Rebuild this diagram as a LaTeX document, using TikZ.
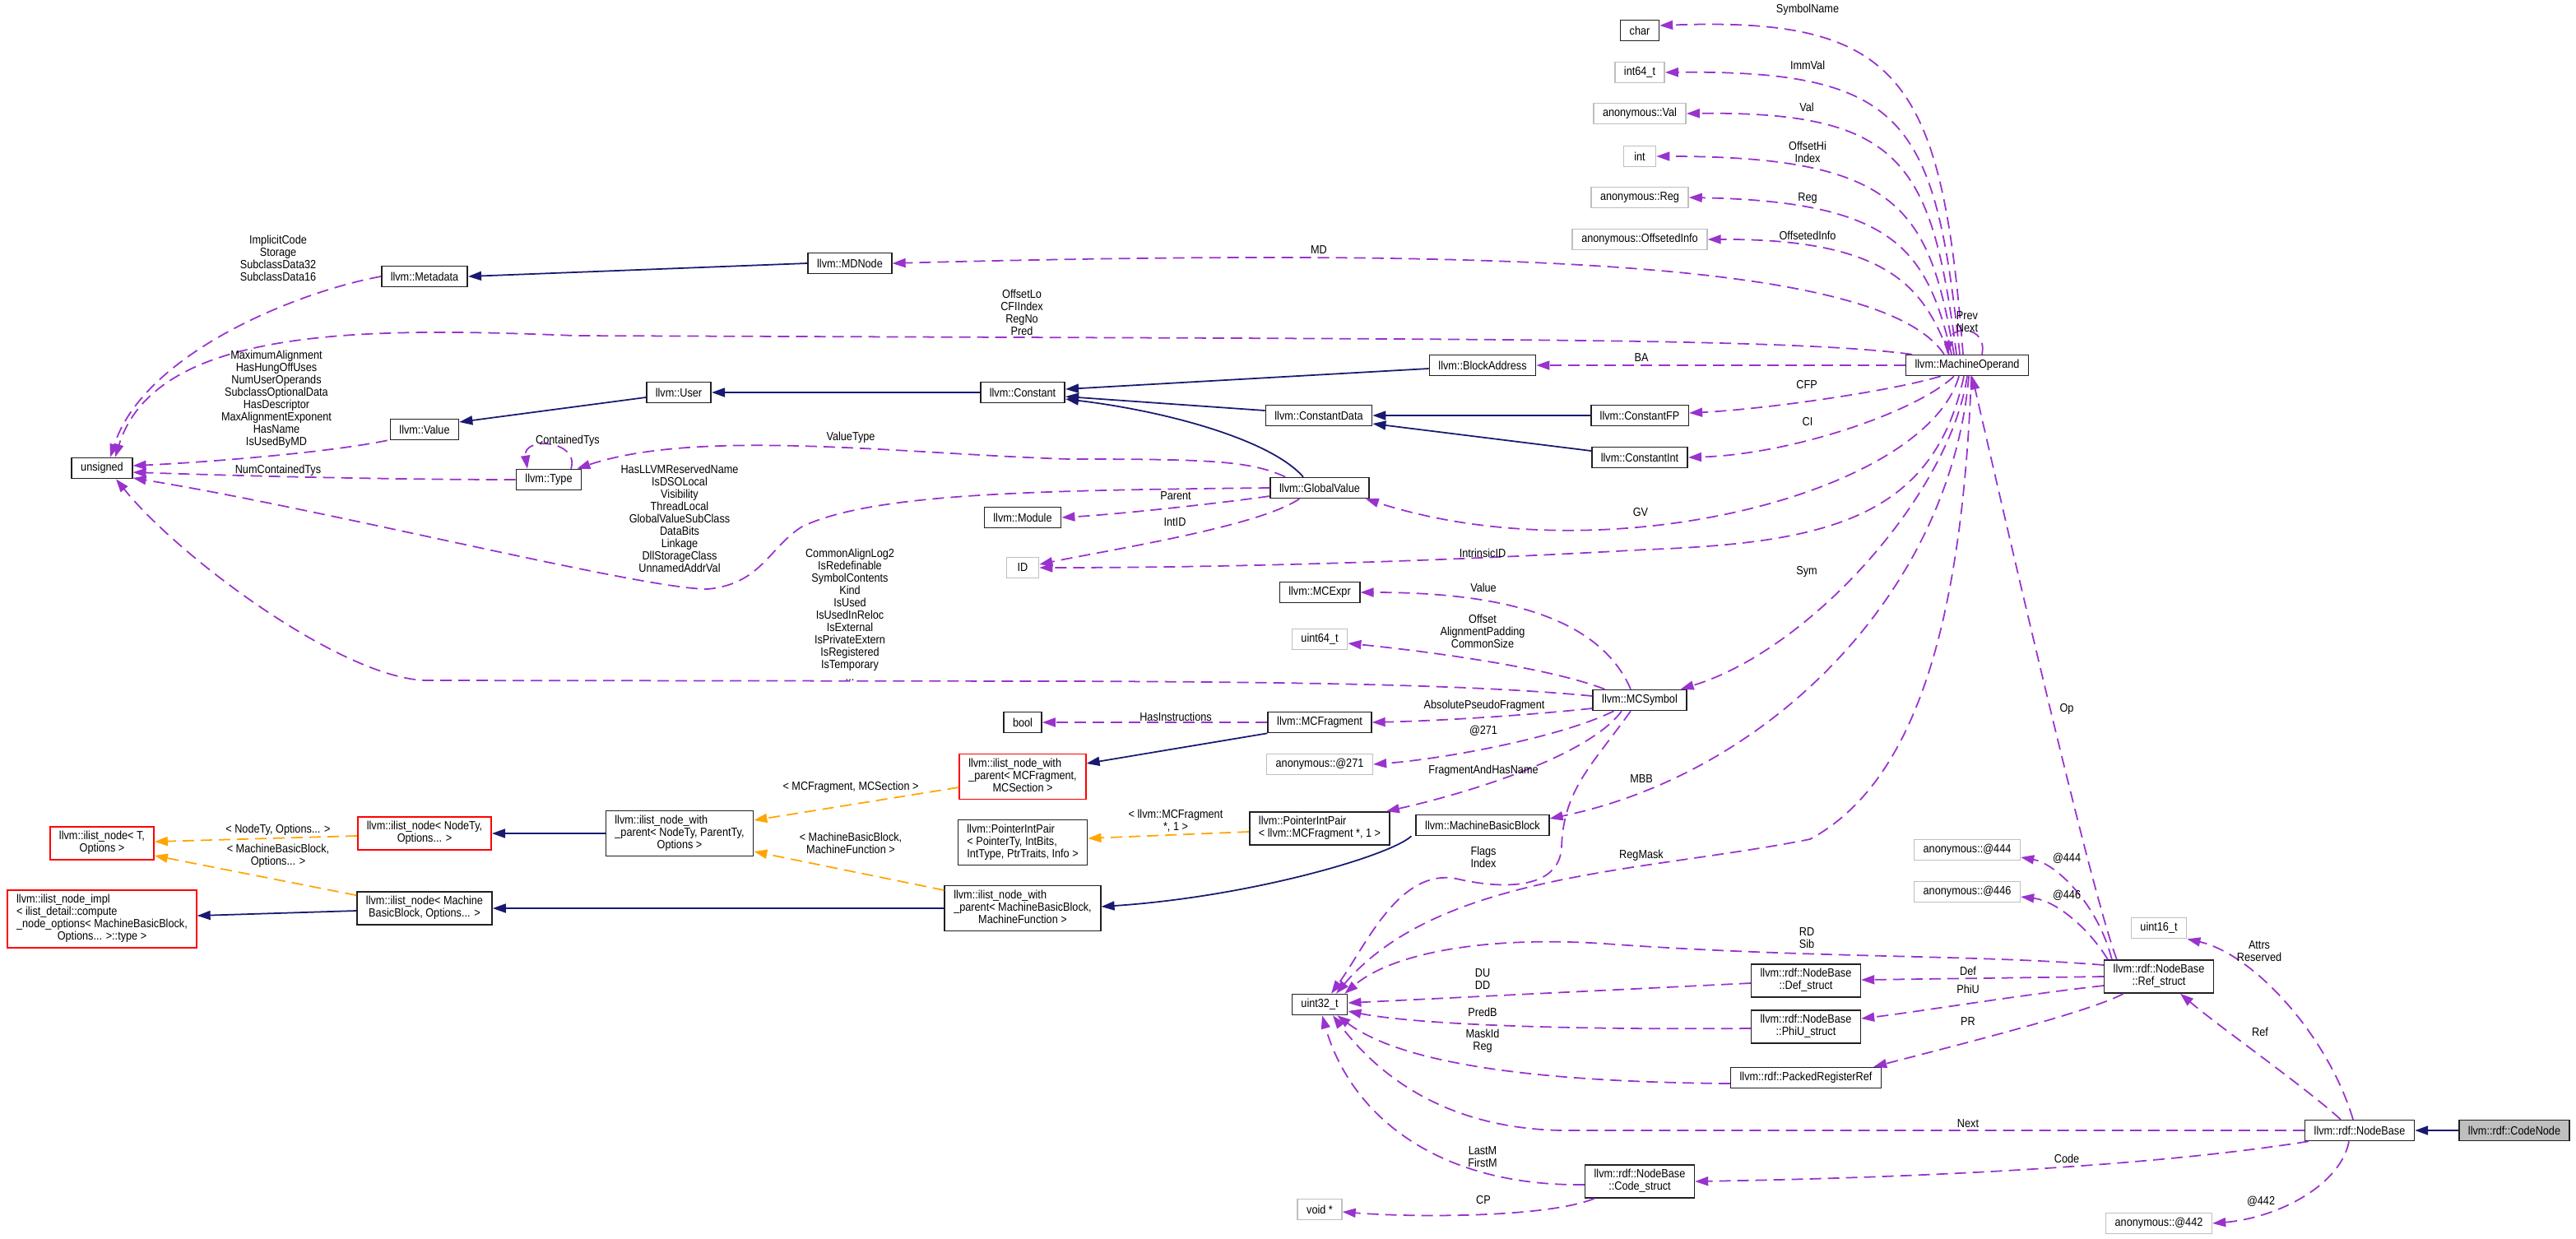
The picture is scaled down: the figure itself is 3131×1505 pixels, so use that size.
\documentclass[tikz,border=0pt]{standalone}
\usepackage{fontspec}
\setmainfont{Liberation Sans}[FakeStretch=0.88]
\usetikzlibrary{arrows.meta,calc}
\definecolor{mpurple}{HTML}{9A32CD}
\definecolor{mblue}{HTML}{191970}
\definecolor{morange}{HTML}{FFA500}
\definecolor{mgray}{HTML}{BFBFBF}
\definecolor{mborder}{HTML}{202020}
\newcommand{\dfont}{\fontsize{4.1pt}{4.27pt}\selectfont}
\newcommand{\mlii}[2]{\begin{tabular}{@{}l@{}}#1\\\multicolumn{1}{@{}c@{}}{#2}\end{tabular}}
\newcommand{\mliii}[3]{\begin{tabular}{@{}l@{}}#1\\#2\\\multicolumn{1}{@{}c@{}}{#3}\end{tabular}}
\newcommand{\mliv}[4]{\begin{tabular}{@{}l@{}}#1\\#2\\#3\\\multicolumn{1}{@{}c@{}}{#4}\end{tabular}}
\tikzset{
  box/.style={draw=mborder, line width=0.45pt, fill=white, inner xsep=0.11cm, inner ysep=0.05cm,
    minimum height=0.25cm, minimum width=0.39cm, font=\dfont},
  gbox/.style={box, draw=mgray},
  rbox/.style={box, draw=red},
  elab/.style={font=\dfont, align=center, inner sep=0pt},
  mem/.style={draw=mpurple, line width=0.5pt, dash pattern=on 0.14cm off 0.08cm,
    -{Triangle[length=0.16cm,width=0.11cm]}},
  inh/.style={draw=mblue, line width=0.5pt, -{Triangle[length=0.16cm,width=0.11cm]}},
  tmpl/.style={draw=morange, line width=0.5pt, dash pattern=on 0.14cm off 0.08cm,
    -{Triangle[length=0.16cm,width=0.11cm]}}
}
\begin{document}
\begin{tikzpicture}[x=0.01cm, y=-0.01cm]
\useasboundingbox (0,0) rectangle (3131,1505);
% ---------------- nodes ----------------
\node[box]  (char)     at (1993,37)  {char};
\node[gbox] (int64)    at (1993,88)  {int64\_t};
\node[gbox] (aval)     at (1993,138) {anonymous::Val};
\node[gbox] (int)      at (1993,190) {int};
\node[gbox] (areg)     at (1993,240) {anonymous::Reg};
\node[gbox] (aoff)     at (1993,291) {anonymous::OffsetedInfo};
\node[box]  (mdnode)   at (1033,320) {llvm::MDNode};
\node[box]  (metadata) at (516,336)  {llvm::Metadata};
\node[box]  (mo)       at (2391,444) {llvm::MachineOperand};
\node[box]  (ba)       at (1802,444) {llvm::BlockAddress};
\node[box]  (user)     at (825,477)  {llvm::User};
\node[box]  (constant) at (1243,477) {llvm::Constant};
\node[box]  (cdata)    at (1603,505) {llvm::ConstantData};
\node[box]  (cfp)      at (1993,505) {llvm::ConstantFP};
\node[box]  (cint)     at (1993,556) {llvm::ConstantInt};
\node[box]  (value)    at (516,522)  {llvm::Value};
\node[box]  (unsigned) at (124,569)  {unsigned};
\node[box]  (type)     at (667,583)  {llvm::Type};
\node[box]  (gv)       at (1604,593) {llvm::GlobalValue};
\node[box]  (module)   at (1243,629) {llvm::Module};
\node[gbox] (id)       at (1243,690) {ID};
\node[box]  (mcexpr)   at (1604,720) {llvm::MCExpr};
\node[gbox] (u64)      at (1604,777) {uint64\_t};
\node[box]  (mcsym)    at (1993,851) {llvm::MCSymbol};
\node[box]  (bool)     at (1243,878) {bool};
\node[box]  (mcfrag)   at (1604,878) {llvm::MCFragment};
\node[gbox] (a271)     at (1604,929) {anonymous::@271};
\node[rbox] (iwpmcf)   at (1243,944) {\mliii{llvm::ilist\_node\_with}{\_parent< MCFragment,}{MCSection >}};
\node[box]  (pipmcf)   at (1604,1007) {\mlii{llvm::PointerIntPair}{< llvm::MCFragment *, 1 >}};
\node[box]  (mbb)      at (1802,1003) {llvm::MachineBasicBlock};
\node[box]  (iwpnt)    at (826,1013) {\mliii{llvm::ilist\_node\_with}{\_parent< NodeTy, ParentTy,}{Options >}};
\node[box]  (pipgen)   at (1243,1024) {\mliii{llvm::PointerIntPair}{< PointerTy, IntBits,}{IntType, PtrTraits, Info >}};
\node[box]  (iwpmbb)   at (1243,1104) {\mliii{llvm::ilist\_node\_with}{\_parent< MachineBasicBlock,}{MachineFunction >}};
\node[rbox] (ilnT)     at (124,1025) {\mlii{llvm::ilist\_node< T,}{Options >}};
\node[rbox] (ilnnt)    at (516,1013) {\mlii{llvm::ilist\_node< NodeTy,}{Options... >}};
\node[rbox] (ilimpl)   at (124,1117) {\mliv{llvm::ilist\_node\_impl}{< ilist\_detail::compute}{\_node\_options< MachineBasicBlock,}{Options... >::type >}};
\node[box]  (ilnmbb)   at (516,1104) {\mlii{llvm::ilist\_node< Machine}{BasicBlock, Options... >}};
\node[gbox] (a444)     at (2391,1033) {anonymous::@444};
\node[gbox] (a446)     at (2391,1084) {anonymous::@446};
\node[gbox] (u16)      at (2624,1128) {uint16\_t};
\node[box]  (u32)      at (1604,1221) {uint32\_t};
\node[box]  (refs)     at (2624,1187) {\mlii{llvm::rdf::NodeBase}{::Ref\_struct}};
\node[box]  (defs)     at (2195,1192) {\mlii{llvm::rdf::NodeBase}{::Def\_struct}};
\node[box]  (phius)    at (2195,1248) {\mlii{llvm::rdf::NodeBase}{::PhiU\_struct}};
\node[box]  (prr)      at (2195,1310) {llvm::rdf::PackedRegisterRef};
\node[box]  (nodebase) at (2868,1374) {llvm::rdf::NodeBase};
\node[box, fill=mgray] (codenode) at (3056,1374) {llvm::rdf::CodeNode};
\node[box]  (codes)    at (1993,1436) {\mlii{llvm::rdf::NodeBase}{::Code\_struct}};
\node[gbox] (voidp)    at (1604,1470) {void *};
\node[gbox] (a442)     at (2624,1487) {anonymous::@442};
% ---------------- inheritance ----------------
\draw[inh] (mdnode.west) -- (metadata.east);
\draw[inh] ($(user.west)+(0,6)$) -- ($(value.east)+(0,-9)$);
\draw[inh] (constant.west) -- (user.east);
\draw[inh] ($(ba.west)+(0,4)$) -- ($(constant.east)+(0,-4)$);
\draw[inh] ($(cdata.west)+(0,-6)$) -- ($(constant.east)+(0,5)$);
\draw[inh] ($(gv.north)+(-20,0)$) .. controls (1545,535) and (1420,500) .. ($(constant.east)+(0,8)$);
\draw[inh] (cfp.west) -- (cdata.east);
\draw[inh] ($(cint.west)+(0,-8)$) -- ($(cdata.east)+(0,10)$);
\draw[inh] (mcfrag.south west) -- ($(iwpmcf.east)+(0,-16)$);
\draw[inh] (iwpnt.west) -- (ilnnt.east);
\draw[inh] ($(ilnmbb.west)+(0,3)$) -- ($(ilimpl.east)+(0,-4)$);
\draw[inh] (iwpmbb.west) -- (ilnmbb.east);
\draw[inh] ($(mbb.south west)+(-5,0)$) .. controls (1690,1040) and (1520,1090) .. ($(iwpmbb.east)+(0,-2)$);
\draw[inh] (codenode.west) -- (nodebase.east);
% ---------------- template instances ----------------
\draw[tmpl] ($(ilnnt.west)+(0,3)$) -- ($(ilnT.east)+(0,-2)$);
\draw[tmpl] ($(ilnmbb.north west)+(0,5)$) -- ($(ilnT.east)+(0,15)$);
\draw[tmpl] ($(iwpmcf.west)+(0,13)$) -- ($(iwpnt.east)+(0,-16)$);
\draw[tmpl] ($(iwpmbb.west)+(0,-22)$) -- ($(iwpnt.east)+(0,22)$);
\draw[tmpl] ($(pipmcf.west)+(0,4)$) -- ($(pipgen.east)+(0,-5)$);
% ---------------- members ----------------
\draw[mem] (metadata.west) .. controls (360,355) and (175,430) .. ($(unsigned.north)+(10,0)$);
\draw[mem] ($(mo.north west)+(8,0)$) .. controls (2200,414) and (1900,413) .. (1500,411) -- (700,408) .. controls (450,398) and (190,395) .. ($(unsigned.north)+(16,0)$);
\draw[mem] ($(value.south west)+(-3,0)$) .. controls (400,550) and (250,562) .. ($(unsigned.east)+(0,-3)$);
\draw[mem] (type.west) .. controls (450,583) and (250,577) .. ($(unsigned.east)+(0,5)$);
\draw[mem] ($(type.north)+(27,0)$) .. controls (705,535) and (635,530) .. ($(type.north)+(-26,0)$);
\draw[mem] ($(gv.north west)+(19,0)$) .. controls (1520,560) and (1470,558) .. (1300,558) .. controls (1100,552) and (850,520) .. ($(type.north east)+(-6,0)$);
\draw[mem] (gv.west) .. controls (1250,596) and (1060,600) .. (975,640) .. controls (935,665) and (925,710) .. (860,716) .. controls (780,716) and (400,620) .. ($(unsigned.east)+(0,12)$);
\draw[mem] ($(mcsym.west)+(0,-5)$) .. controls (1800,833) and (1600,829) .. (1300,828) -- (520,827) .. controls (420,827) and (220,680) .. ($(unsigned.south)+(17,0)$);
\draw[mem] ($(mo.north)+(-28,0)$) .. controls (2290,320) and (1850,300) .. (mdnode.east);
\draw[mem] ($(mo.north)+(-5,0)$) .. controls (2360,95) and (2310,20) .. ($(char.east)+(0,-6)$);
\draw[mem] ($(mo.north)+(-9,0)$) .. controls (2352,150) and (2320,85) .. (int64.east);
\draw[mem] ($(mo.north)+(-13,0)$) .. controls (2348,200) and (2315,135) .. (aval.east);
\draw[mem] ($(mo.north)+(-16,0)$) .. controls (2345,255) and (2310,190) .. (int.east);
\draw[mem] ($(mo.north)+(-19,0)$) .. controls (2342,305) and (2305,245) .. (areg.east);
\draw[mem] ($(mo.north)+(-22,0)$) .. controls (2339,353) and (2300,290) .. (aoff.east);
\draw[mem] ($(mo.north)+(18,0)$) .. controls (2416,395) and (2370,395) .. ($(mo.north)+(-24,0)$);
\draw[mem] (mo.west) -- (ba.east);
\draw[mem] ($(mo.south west)+(43,0)$) .. controls (2300,475) and (2150,497) .. ($(cfp.east)+(0,-3)$);
\draw[mem] ($(mo.south)+(-16,0)$) .. controls (2330,500) and (2180,552) .. (cint.east);
\draw[mem] ($(mo.south)+(-10,0)$) .. controls (2340,600) and (1950,700) .. ($(gv.south east)+(-5,0)$);
\draw[mem] ($(mo.south)+(-4,0)$) .. controls (2350,630) and (2220,660) .. (2000,668) .. controls (1700,685) and (1450,690) .. (id.east);
\draw[mem] ($(gv.south west)+(36,0)$) .. controls (1530,640) and (1350,668) .. ($(id.east)+(0,-4)$);
\draw[mem] ($(gv.west)+(0,10)$) .. controls (1480,612) and (1360,625) .. (module.east);
\draw[mem] (mo.south) .. controls (2370,600) and (2200,790) .. ($(mcsym.north east)+(-8,0)$);
\draw[mem] ($(mcsym.north)+(-11,0)$) .. controls (1940,740) and (1800,720) .. (mcexpr.east);
\draw[mem] ($(mcsym.north west)+(15,0)$) .. controls (1880,810) and (1720,790) .. ($(u64.east)+(0,5)$);
\draw[mem] ($(mcsym.west)+(0,10)$) .. controls (1850,870) and (1750,876) .. (mcfrag.east);
\draw[mem] ($(mcsym.south west)+(26,0)$) .. controls (1900,895) and (1760,922) .. (a271.east);
\draw[mem] ($(mcsym.south)+(-22,0)$) .. controls (1930,920) and (1780,965) .. ($(pipmcf.north east)+(-5,0)$);
\draw[mem] ($(mcsym.south)+(-11,0)$) .. controls (1935,930) and (1900,960) .. (1898,1030) .. controls (1895,1080) and (1830,1082) .. (1770,1068) .. controls (1700,1055) and (1660,1150) .. ($(u32.north)+(14,0)$);
\draw[mem] ($(mo.south)+(2,0)$) .. controls (2370,720) and (2150,940) .. ($(mbb.east)+(0,-8)$);
\draw[mem] ($(mo.south)+(5,0)$) .. controls (2385,750) and (2330,950) .. (2200,1020) .. controls (2000,1060) and (1750,1060) .. ($(u32.north)+(20,0)$);
\draw[mem] ($(refs.north west)+(16,0)$) .. controls (2540,1080) and (2430,600) .. ($(mo.south)+(6,0)$);
\draw[mem] ($(refs.north west)+(10,0)$) .. controls (2550,1100) and (2500,1050) .. ($(a444.east)+(0,9)$);
\draw[mem] ($(refs.north west)+(5,0)$) .. controls (2540,1130) and (2500,1095) .. ($(a446.east)+(0,6)$);
\draw[mem] ($(refs.west)+(0,-14)$) .. controls (2400,1160) and (2200,1165) .. (1950,1147) .. controls (1800,1137) and (1690,1160) .. ($(u32.north east)+(-4,0)$);
\draw[mem] (refs.west) -- ($(defs.east)+(0,-1)$);
\draw[mem] ($(refs.west)+(0,11)$) .. controls (2450,1210) and (2330,1230) .. ($(phius.east)+(0,-10)$);
\draw[mem] ($(refs.south west)+(24,0)$) .. controls (2540,1230) and (2380,1270) .. ($(prr.north east)+(-10,0)$);
\draw[mem] ($(defs.west)+(0,3)$) -- ($(u32.east)+(0,-2)$);
\draw[mem] ($(phius.west)+(0,2)$) .. controls (1900,1252) and (1720,1245) .. ($(u32.east)+(0,8)$);
\draw[mem] ($(prr.west)+(0,7)$) .. controls (1850,1315) and (1700,1290) .. ($(u32.south east)+(-13,0)$);
\draw[mem] (nodebase.west) -- (1900,1374) .. controls (1750,1372) and (1670,1300) .. ($(u32.south)+(16,0)$);
\draw[mem] ($(codes.west)+(0,4)$) .. controls (1740,1442) and (1640,1350) .. ($(u32.south)+(3,0)$);
\draw[mem] ($(codes.south west)+(12,0)$) .. controls (1880,1480) and (1720,1480) .. ($(voidp.east)+(0,3)$);
\draw[mem] ($(nodebase.south west)+(5,0)$) .. controls (2600,1420) and (2300,1432) .. (codes.east);
\draw[mem] ($(nodebase.north)+(-23,0)$) .. controls (2800,1320) and (2700,1250) .. ($(refs.south)+(26,0)$);
\draw[mem] ($(nodebase.north)+(-8,0)$) .. controls (2830,1260) and (2740,1160) .. (u16.south east);
\draw[mem] ($(nodebase.south)+(-13,0)$) .. controls (2845,1440) and (2770,1480) .. (a442.east);
\draw[mem] (mcfrag.west) -- (bool.east);
% ---------------- labels ----------------
\node[elab] (l1)  at (2197,12)  {SymbolName};
\node[elab] (l2)  at (2197,79)  {ImmVal};
\node[elab] (l3)  at (2196,130) {Val};
\node[elab] (l4)  at (2197,185) {OffsetHi\\Index};
\node[elab] (l5)  at (2197,241) {Reg};
\node[elab] (l6)  at (2197,286) {OffsetedInfo};
\node[elab] (l7)  at (1603,304) {MD};
\node[elab] (l8)  at (2391,391) {Prev\\Next};
\node[elab] (l9)  at (1995,435) {BA};
\node[elab] (l10) at (2196,468) {CFP};
\node[elab] (l11) at (2197,513) {CI};
\node[elab] (l12) at (1994,623) {GV};
\node[elab] (l13) at (1802,672) {IntrinsicID};
\node[elab] (l14) at (2196,695) {Sym};
\node[elab] (l15) at (1803,714) {Value};
\node[elab] (l16) at (1802,767) {Offset\\AlignmentPadding\\CommonSize};
\node[elab] (l17) at (1804,858) {AbsolutePseudoFragment};
\node[elab] (l18) at (1803,888) {@271};
\node[elab] (l19) at (1803,937) {FragmentAndHasName};
\node[elab] (l20) at (1995,947) {MBB};
\node[elab] (l21) at (1803,1042) {Flags\\Index};
\node[elab] (l22) at (1995,1040) {RegMask};
\node[elab] (l23) at (2512,862) {Op};
\node[elab] (l24) at (2512,1043) {@444};
\node[elab] (l25) at (2512,1088) {@446};
\node[elab] (l26) at (2196,1140) {RD\\Sib};
\node[elab] (l27) at (2746,1156) {Attrs\\Reserved};
\node[elab] (l28) at (2392,1180) {Def};
\node[elab] (l29) at (2392,1202) {PhiU};
\node[elab] (l30) at (1802,1190) {DU\\DD};
\node[elab] (l31) at (1802,1230) {PredB};
\node[elab] (l32) at (2392,1242) {PR};
\node[elab] (l33) at (2747,1254) {Ref};
\node[elab] (l34) at (1802,1265) {MaskId\\Reg};
\node[elab] (l35) at (2392,1366) {Next};
\node[elab] (l36) at (1802,1406) {LastM\\FirstM};
\node[elab] (l37) at (2512,1408) {Code};
\node[elab] (l38) at (1803,1459) {CP};
\node[elab] (l39) at (2748,1460) {@442};
\node[elab] (l40) at (338,314)  {ImplicitCode\\Storage\\SubclassData32\\SubclassData16};
\node[elab] (l41) at (1242,380) {OffsetLo\\CFIIndex\\RegNo\\Pred};
\node[elab] (l42) at (336,485)  {MaximumAlignment\\HasHungOffUses\\NumUserOperands\\SubclassOptionalData\\HasDescriptor\\MaxAlignmentExponent\\HasName\\IsUsedByMD};
\node[elab] (l43) at (338,572)  {NumContainedTys};
\node[elab] (l44) at (690,536)  {ContainedTys};
\node[elab] (l45) at (1034,532) {ValueType};
\node[elab] (l46) at (826,630)  {HasLLVMReservedName\\IsDSOLocal\\Visibility\\ThreadLocal\\GlobalValueSubClass\\DataBits\\Linkage\\DllStorageClass\\UnnamedAddrVal};
\node[elab] (l47) at (1429,603) {Parent};
\node[elab] (l48) at (1428,635) {IntID};
\node[elab] (l49) at (1033,747) {CommonAlignLog2\\IsRedefinable\\SymbolContents\\Kind\\IsUsed\\IsUsedInReloc\\IsExternal\\IsPrivateExtern\\IsRegistered\\IsTemporary\\...};
\node[elab] (l50) at (1429,871) {HasInstructions};
\node[elab] (l51) at (1034,957) {< MCFragment, MCSection >};
\node[elab] (l52) at (1034,1025) {< MachineBasicBlock,\\MachineFunction >};
\node[elab] (l53) at (1429,998) {< llvm::MCFragment\\ *, 1 >};
\node[elab] (l54) at (338,1009) {< NodeTy, Options... >};
\node[elab] (l55) at (338,1040) {< MachineBasicBlock,\\Options... >};
\end{tikzpicture}
\end{document}
